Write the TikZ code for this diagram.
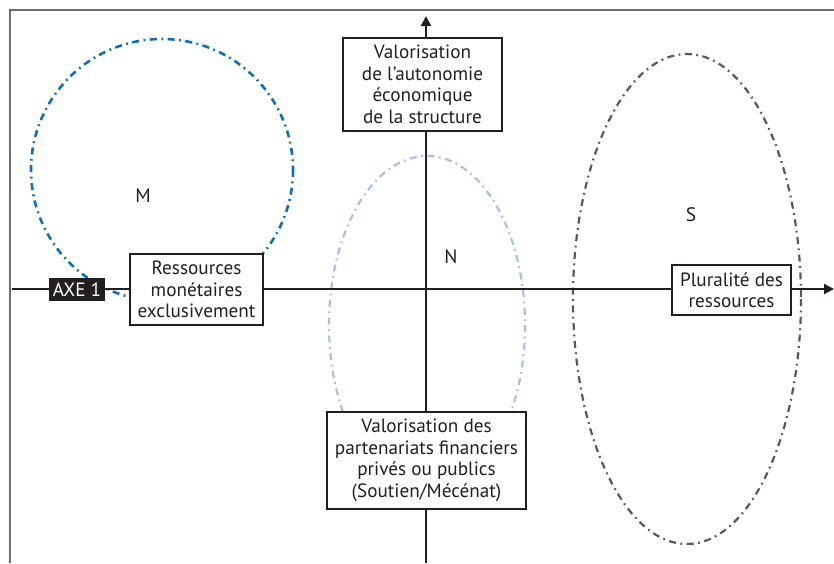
\documentclass[tikz,border=0pt]{standalone}
\usepackage{fontspec}
\setmainfont{PT Sans}
\usetikzlibrary{arrows.meta}
\definecolor{ink}{HTML}{231F20}
\definecolor{mblue}{HTML}{0F6FB5}
\definecolor{nblue}{HTML}{A9C0E6}
\definecolor{sgray}{HTML}{58595B}
\definecolor{frame}{HTML}{6D6E70}
\tikzset{
  dashdot/.style={dash pattern=on 7pt off 4.5pt on 1.8pt off 4.5pt},
  axisline/.style={draw=ink, line width=2pt, -{Triangle[width=10pt,length=10pt]}},
  labelbox/.style={draw=ink, line width=2.4pt, fill=white, align=center, inner sep=0pt,
                   font=\fontsize{19.2}{21.5}\selectfont, text=ink},
  zone/.style={font=\fontsize{19.5}{22}\selectfont, text=ink},
}
\begin{document}
\begin{tikzpicture}[x=1pt,y=-1pt]
\useasboundingbox (0,0) rectangle (834,563);
% frame
\draw[frame, line width=1.5pt] (10,563) -- (10,10) -- (834,10);
% zones
\draw[mblue, line width=2.6pt, dashdot] (162,170) ellipse [x radius=131, y radius=131];
\draw[nblue, line width=2.2pt, dashdot] (427,325) ellipse [x radius=98, y radius=169];
\draw[sgray, line width=2.2pt, dashdot] (687,299) ellipse [x radius=114, y radius=245];
\node[zone] (M) at (143,196) {M};
\node[zone] (N) at (451,257) {N};
\node[zone] (S) at (691,215) {S};
% axes
\coordinate (xl) at (12,289);
\coordinate (xr) at (834,289);
\coordinate (yb) at (426,563);
\coordinate (yt) at (426,16);
\draw[axisline] (xl) -- (xr);
\draw[axisline] (yb) -- (yt);
% boxes
\node[labelbox, minimum width=159pt, minimum height=93pt] (top) at (422.5,84.5)
  {Valorisation\\de l’autonomie\\économique\\de la structure};
\node[labelbox, minimum width=199pt, minimum height=97pt] (bot) at (426.5,460.5)
  {Valorisation des\\partenariats financiers\\privés ou publics\\(Soutien/Mécénat)};
\node[labelbox, minimum width=133pt, minimum height=71pt] (left) at (196.5,289.5)
  {Ressources\\monétaires\\exclusivement};
\node[labelbox, minimum width=119pt, minimum height=50pt] (right) at (731.5,290)
  {Pluralité des\\ressources};
\node[fill=ink, text=white, inner sep=0pt, minimum width=56pt, minimum height=23pt,
      font=\fontsize{19.2}{21}\selectfont] (axe) at (77,289.5) {AXE 1};
\end{tikzpicture}
\end{document}
